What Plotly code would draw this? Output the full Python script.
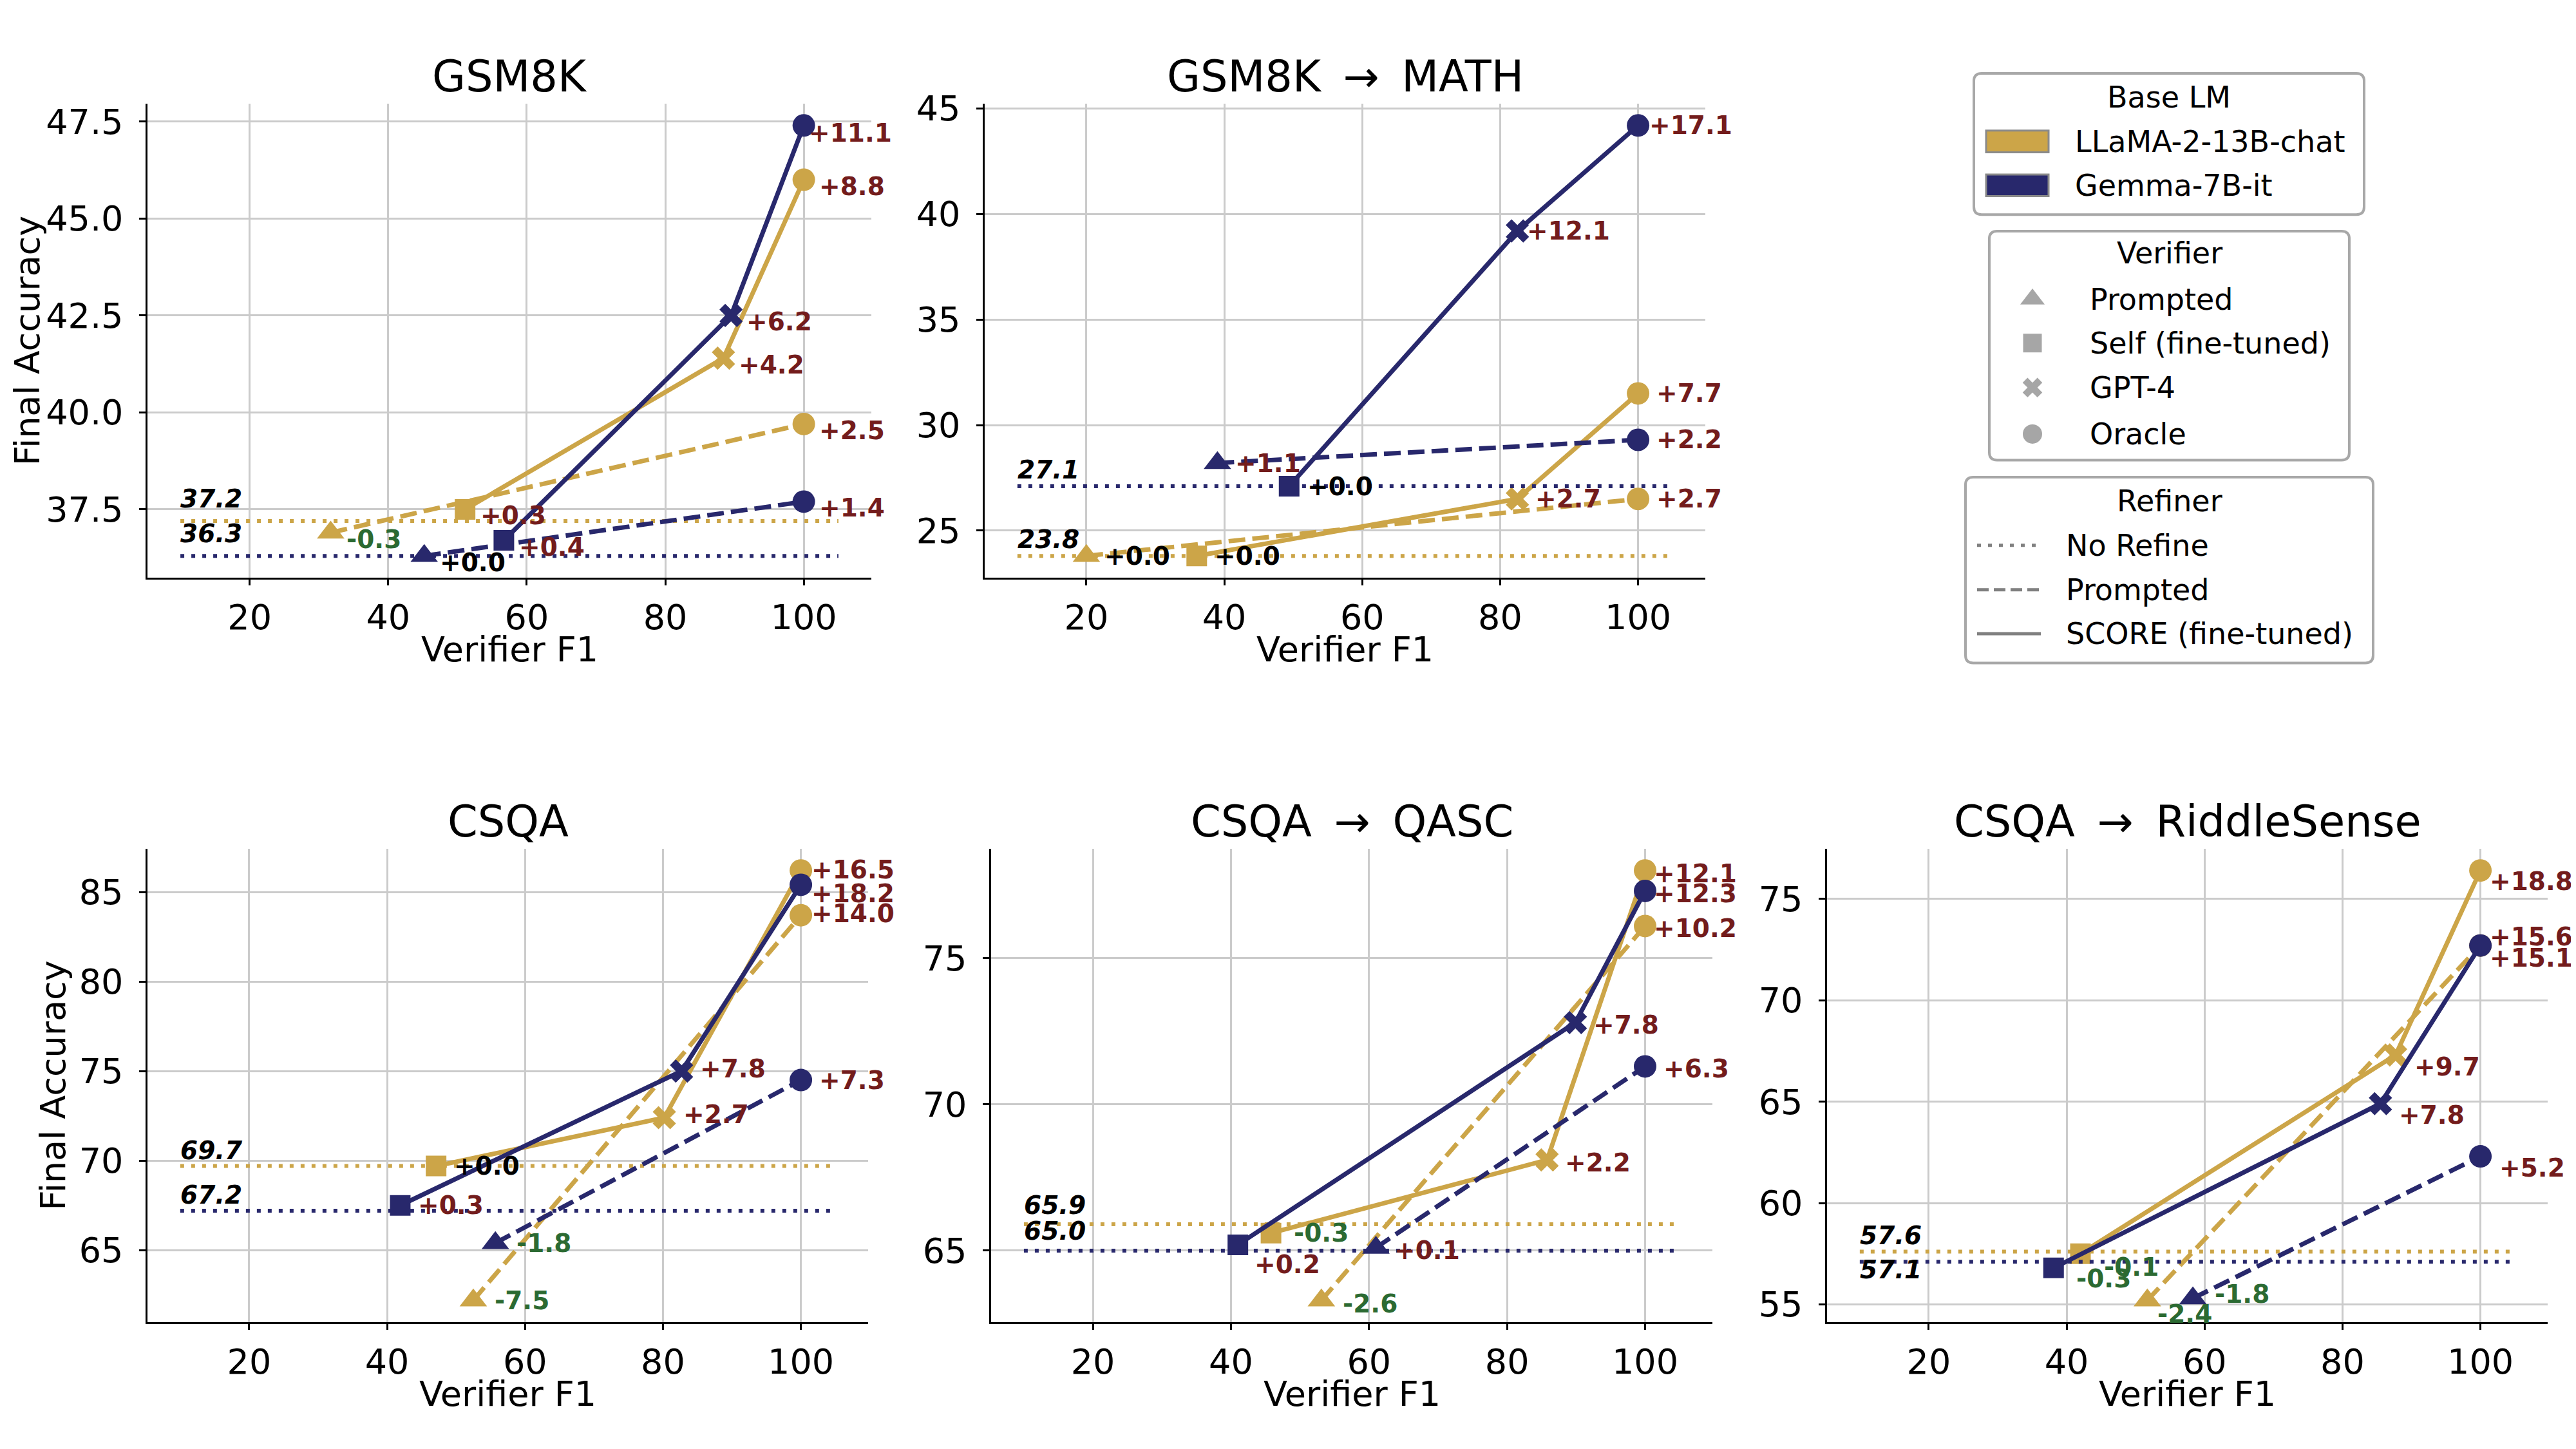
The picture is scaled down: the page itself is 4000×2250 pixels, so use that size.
import plotly.graph_objects as go

# ---------------------------------------------------------------- data
TASKS = ["GSM8K", "GSM8K \u2009\u2192\u2009 MATH", "CSQA",
         "CSQA \u2009\u2192\u2009 QASC", "CSQA \u2009\u2192\u2009 RiddleSense"]
MODELS = ["LLaMA-2-13B-chat", "Gemma-7B-it"]
VERIFIERS = ["Prompted", "Self (fine-tuned)", "GPT-4", "Oracle"]
REFINERS = ["No Refine", "Prompted", "SCORE (fine-tuned)"]

# No-refine accuracy per task: [LLaMA, Gemma]
NO_REFINE = [[37.2, 36.3], [23.8, 27.1], [69.7, 67.2], [65.9, 65.0], [57.6, 57.1]]

# Verifier F1 per task: [Prompted, Self (fine-tuned), GPT-4, Oracle]
F1_LLAMA = [[31.7, 51.1, 88.4, 100], [20.0, 36.0, 82.5, 100], [52.5, 47.1, 80.2, 100],
            [53.1, 45.8, 85.8, 100], [51.7, 42.0, 87.7, 100]]
F1_GEMMA = [[45.2, 56.7, 89.5, 100], [39.0, 49.4, 82.5, 100], [55.7, 41.9, 82.7, 100],
            [61.0, 41.0, 89.9, 100], [58.3, 38.1, 85.5, 100]]

# Prompted refiner accuracy: [Prompted verifier, Oracle verifier]
PROMPTED_LLAMA = [[36.9, 39.7], [23.8, 26.5], [62.2, 83.7], [63.3, 76.1], [55.2, 72.7]]
PROMPTED_GEMMA = [[36.3, 37.7], [28.2, 29.3], [65.4, 74.5], [65.1, 71.3], [55.3, 62.3]]

# SCORE refiner accuracy: [Self verifier, GPT-4 verifier, Oracle verifier]
SCORE_LLAMA = [[37.5, 41.4, 46.0], [23.8, 26.5, 31.5], [69.7, 72.4, 86.2],
               [65.6, 68.1, 78.0], [57.5, 67.3, 76.4]]
SCORE_GEMMA = [[36.7, 42.5, 47.4], [27.1, 39.2, 44.2], [67.5, 75.0, 85.4],
               [65.2, 72.8, 77.3], [56.8, 64.9, 72.7]]

X_TICKS = [20, 40, 60, 80, 100]
NO_REFINE_SPAN = [10, 105]

# ---------------------------------------------------------------- style
W, H = 4000, 2250
FONT = "DejaVu Sans"
GOLD = "#CCA548"
NAVY = "#28286C"
COLORS = [GOLD, NAVY]
POS_C, NEG_C, ZERO_C = "#731C1C", "#2B6A32", "#000000"
GRID_C = "#CBCBCB"

# axes boxes in pixels: (left, right, top, bottom)
PANEL_BOX = [(221, 1345, 131, 875.5), (1521, 2640, 131, 875.5),
             (221, 1340, 1302.5, 2046), (1531, 2651, 1302.5, 2046),
             (2829, 3948, 1302.5, 2046)]
Y_DTICK = [2.5, 5, 5, 5, 5]
Y_FMT = [".1f", "d", "d", "d", "d"]
YLABEL_X = {0: 35, 2: 74}

# label nudges in px (right, down)
DEFAULT_NUDGE = [(22, 10), (26, 0), (26, 0), (26, 4), (27, 18)]
NUDGE = {
    (0, 1, "S", 2): (6, 12),
    (1, 1, "S", 1): (13, 0), (1, 1, "S", 2): (15, 0),
    (2, 0, "S", 2): (14, -1), (2, 1, "S", 2): (14, 14), (2, 0, "P", 1): (14, -3),
    (2, 1, "S", 1): (27, -4), (2, 0, "S", 1): (27, -5),
    (2, 0, "P", 0): (31, 0), (2, 1, "P", 0): (31, 0),
    (3, 0, "S", 2): (11, 5), (3, 1, "S", 2): (11, 4), (3, 0, "P", 1): (11, 4),
    (3, 0, "S", 0): (33, 0), (3, 1, "S", 0): (24, 31), (3, 0, "P", 0): (31, 5),
    (4, 0, "S", 2): (12, 17), (4, 1, "S", 2): (12, -14), (4, 0, "P", 1): (12, 19),
    (4, 0, "S", 0): (34, 21), (4, 1, "S", 0): (33, 17), (4, 1, "P", 0): (32, -7),
    (4, 0, "P", 0): (14, 21),
}

SYM = {"tri": "triangle-up", "sq": "square", "x": "x", "o": "circle"}
SYM_SIZE = {"triangle-up": 37, "square": 32, "x": 32, "circle": 35}


def px(x):
    return x / W


def py(y):
    return 1 - y / H


fig = go.Figure()
annotations = []
shapes = []
layout_axes = {}

for p, task in enumerate(TASKS):
    xa = "x" if p == 0 else f"x{p + 1}"
    ya = "y" if p == 0 else f"y{p + 1}"
    f1s = [F1_LLAMA[p], F1_GEMMA[p]]
    proms = [PROMPTED_LLAMA[p], PROMPTED_GEMMA[p]]
    scores = [SCORE_LLAMA[p], SCORE_GEMMA[p]]
    allv = NO_REFINE[p] + proms[0] + proms[1] + scores[0] + scores[1]
    lo, hi = min(allv), max(allv)
    pad = 0.05 * (hi - lo)
    xlo, xhi = NO_REFINE_SPAN
    xpad = 0.05 * (xhi - xlo)

    for m in range(2):
        c = COLORS[m]
        base = NO_REFINE[p][m]
        # no refine
        fig.add_trace(go.Scatter(
            x=NO_REFINE_SPAN, y=[base, base], xaxis=xa, yaxis=ya, mode="lines",
            line=dict(color=c, width=6, dash="6px,11px"), showlegend=False,
            hoverinfo="skip"))
        # prompted refiner
        xs_p = [f1s[m][0], f1s[m][3]]
        sy_p = [SYM["tri"], SYM["o"]]
        fig.add_trace(go.Scatter(
            x=xs_p, y=proms[m], xaxis=xa, yaxis=ya, mode="lines+markers",
            line=dict(color=c, width=7, dash="26px,11px"),
            marker=dict(symbol=sy_p, size=[SYM_SIZE[s] for s in sy_p], color=c,
                        opacity=1, line=dict(width=0)),
            cliponaxis=False, showlegend=False))
        # SCORE refiner
        xs_s = [f1s[m][1], f1s[m][2], f1s[m][3]]
        sy_s = [SYM["sq"], SYM["x"], SYM["o"]]
        fig.add_trace(go.Scatter(
            x=xs_s, y=scores[m], xaxis=xa, yaxis=ya, mode="lines+markers",
            line=dict(color=c, width=7),
            marker=dict(symbol=sy_s, size=[SYM_SIZE[s] for s in sy_s], color=c,
                        opacity=1, line=dict(width=0)),
            cliponaxis=False, showlegend=False))

        # delta labels
        for kind, xs, ys in (("P", xs_p, proms[m]), ("S", xs_s, scores[m])):
            for i, (xv, yv) in enumerate(zip(xs, ys)):
                d = round(yv - base, 1)
                if d > 0.05:
                    col = POS_C
                elif d < -0.05:
                    col = NEG_C
                else:
                    col = ZERO_C
                    d = 0.0
                txt = f"{d:+.1f}"
                dx, dy = NUDGE.get((p, m, kind, i), DEFAULT_NUDGE[p])
                annotations.append(dict(
                    x=xv, y=yv, xref=xa, yref=ya, text=txt, showarrow=False,
                    xanchor="left", yanchor="middle", xshift=dx, yshift=-dy,
                    font=dict(family=FONT, size=39, color=col, weight="bold")))

        # baseline value labels
        below = (p == 4 and m == 1)
        annotations.append(dict(
            x=xlo, y=base + (0.13 if below else 0.32), xref=xa, yref=ya,
            text=f"{base:.1f}", showarrow=False, xanchor="left",
            yanchor="top" if below else "bottom",
            yshift=8 if below else -9, xshift=-2,
            font=dict(family=FONT, size=39, color="#000000", weight="bold",
                      style="italic")))

    L, R, T, B = PANEL_BOX[p]
    axis_common = dict(showline=True, linecolor="#000000", linewidth=2.5,
                       mirror=False, ticks="outside", ticklen=10, tickwidth=2.5,
                       tickcolor="#000000", showgrid=True, gridcolor=GRID_C,
                       gridwidth=2.5, zeroline=False,
                       tickfont=dict(family=FONT, size=54, color="#000000"))
    layout_axes["xaxis" if p == 0 else f"xaxis{p + 1}"] = dict(
        domain=[px(L), px(R)], anchor=ya, range=[xlo - xpad, xhi + xpad],
        tickmode="array", tickvals=X_TICKS, ticktext=[str(t) for t in X_TICKS],
        ticklabelstandoff=3, **axis_common)
    layout_axes["yaxis" if p == 0 else f"yaxis{p + 1}"] = dict(
        domain=[py(B), py(T)], anchor=xa, range=[lo - pad, hi + pad],
        tick0=0, dtick=Y_DTICK[p], tickformat=Y_FMT[p], ticklabelstandoff=14,
        **axis_common)

    # title
    annotations.append(dict(
        x=px((L + R) / 2), y=py(T - 43), xref="paper", yref="paper", text=task,
        showarrow=False, xanchor="center", yanchor="middle",
        font=dict(family=FONT, size=67, color="#000000")))
    # x axis label
    annotations.append(dict(
        x=px((L + R) / 2), y=py(B + 113), xref="paper", yref="paper",
        text="Verifier F1", showarrow=False, xanchor="center", yanchor="middle",
        font=dict(family=FONT, size=54, color="#000000")))
    if p in YLABEL_X:
        annotations.append(dict(
            x=px(YLABEL_X[p]), y=py((T + B) / 2), xref="paper", yref="paper",
            text="Final Accuracy", showarrow=False, textangle=-90,
            xanchor="center", yanchor="middle",
            font=dict(family=FONT, size=54, color="#000000")))

# ---------------------------------------------------------------- legends (drawn)
LEG_BOXES = [
    dict(title="Base LM", x0=3057, x1=3663, y0=83, y1=305, ty=121,
         rows=[190, 259], hx=3076, tx=3212, kind="patch", labels=MODELS),
    dict(title="Verifier", x0=3081, x1=3640, y0=331, y1=691, ty=366,
         rows=[438, 507, 577, 650], hx=3100, tx=3235, kind="marker", labels=VERIFIERS),
    dict(title="Refiner", x0=3044, x1=3677, y0=718, y1=1010, ty=755,
         rows=[825, 895, 964], hx=3062, tx=3198, kind="line", labels=REFINERS),
]
LEG_SYMBOLS = ["triangle-up", "square", "x", "circle"]
LEG_SIZES = [33, 29, 27, 30]
LEG_DASH = ["6px,11px", "18px,8px", "solid"]
LEG_GRAY = "#808080"


def rounded_rect(x0, y0, x1, y1, r=12):
    def P(x, y):
        return f"{px(x):.6f},{py(y):.6f}"
    return (f"M {P(x0 + r, y0)} L {P(x1 - r, y0)} Q {P(x1, y0)} {P(x1, y0 + r)} "
            f"L {P(x1, y1 - r)} Q {P(x1, y1)} {P(x1 - r, y1)} L {P(x0 + r, y1)} "
            f"Q {P(x0, y1)} {P(x0, y1 - r)} L {P(x0, y0 + r)} Q {P(x0, y0)} {P(x0 + r, y0)} Z")


leg_mx, leg_my, leg_sym, leg_size = [], [], [], []
for box in LEG_BOXES:
    shapes.append(dict(type="path", xref="paper", yref="paper",
                       path=rounded_rect(box["x0"], box["y0"], box["x1"], box["y1"]),
                       line=dict(color="#A8A8A8", width=4), fillcolor="white",
                       layer="below"))
    cx = (box["x0"] + box["x1"]) / 2
    annotations.append(dict(x=px(cx), y=py(box["ty"]), xref="paper", yref="paper",
                            text=box["title"], showarrow=False, xanchor="center",
                            yanchor="middle",
                            font=dict(family=FONT, size=46, color="#000000")))
    for i, (ry, lab) in enumerate(zip(box["rows"], box["labels"])):
        annotations.append(dict(x=px(box["tx"]), y=py(ry), xref="paper", yref="paper",
                                text=lab, showarrow=False, xanchor="left",
                                yanchor="middle",
                                font=dict(family=FONT, size=46, color="#000000")))
        if box["kind"] == "patch":
            shapes.append(dict(type="rect", xref="paper", yref="paper",
                               x0=px(box["hx"]), x1=px(box["hx"] + 97),
                               y0=py(ry - 17), y1=py(ry + 17),
                               fillcolor=COLORS[i], line=dict(color="#8A8A8A", width=3),
                               layer="above"))
        elif box["kind"] == "line":
            shapes.append(dict(type="line", xref="paper", yref="paper",
                               x0=px(box["hx"]), x1=px(box["hx"] + 99),
                               y0=py(ry), y1=py(ry),
                               line=dict(color=LEG_GRAY, width=5, dash=LEG_DASH[i]),
                               layer="above"))
        else:
            leg_mx.append(box["hx"] + 48)
            leg_my.append(ry)
            leg_sym.append(LEG_SYMBOLS[i])
            leg_size.append(LEG_SIZES[i])

fig.add_trace(go.Scatter(
    x=leg_mx, y=leg_my, xaxis="x6", yaxis="y6", mode="markers",
    marker=dict(symbol=leg_sym, size=leg_size, color=LEG_GRAY, line=dict(width=0)),
    cliponaxis=False, showlegend=False, hoverinfo="skip"))
layout_axes["xaxis6"] = dict(domain=[0, 1], range=[0, W], visible=False, anchor="y6",
                             fixedrange=True, showgrid=False)
layout_axes["yaxis6"] = dict(domain=[0, 1], range=[H, 0], visible=False, anchor="x6",
                             fixedrange=True, showgrid=False)

fig.update_layout(
    width=W, height=H, margin=dict(l=0, r=0, t=0, b=0),
    paper_bgcolor="white", plot_bgcolor="rgba(0,0,0,0)",
    showlegend=False, annotations=annotations, shapes=shapes,
    font=dict(family=FONT, color="#000000"),
    **layout_axes)

fig.write_html("out.html")
